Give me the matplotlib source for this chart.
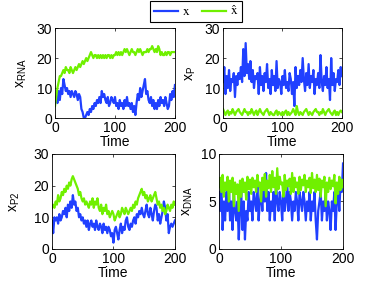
import numpy as np
import matplotlib
matplotlib.use("Agg")
import matplotlib.pyplot as plt

plt.rcParams['font.family'] = ['Liberation Sans', 'DejaVu Sans']
plt.rcParams['mathtext.fontset'] = 'stix'
plt.rcParams['font.size'] = 9.5

# veriler
rna_x = [5, 7, 5, 9, 6, 10, 8, 13, 11, 9, 10, 8, 9, 7, 9, 8, 7, 9, 8, 6,
         8, 7, 3, 2, 0, 0, 1, 2, 1, 3, 2, 4, 3, 5, 4, 6, 5, 7, 5, 9,
         7, 8, 6, 5, 7, 4, 5, 7, 6, 5, 7, 4, 5, 3, 6, 4, 5, 3, 6, 4,
         7, 4, 5, 3, 5, 2, 4, 1, 5, 8, 6, 10, 7, 9, 11, 13, 8, 9, 6, 5,
         7, 4, 6, 3, 5, 3, 6, 4, 7, 5, 6, 4, 7, 5, 3, 4, 8, 6, 9, 7, 11]
rna_hat = [4, 7, 10, 12, 14, 14, 15, 16, 15, 17, 16, 16, 15, 17, 16, 15, 16, 17, 16, 17,
           18, 17, 18, 19, 18, 19, 20, 19, 20, 21, 22, 21, 20, 21, 21, 20, 21, 20, 21, 20,
           21, 20, 21, 20, 21, 21, 20, 21, 20, 21, 21, 22, 21, 22, 21, 22, 21, 22, 23, 22,
           23, 22, 21, 22, 23, 22, 22, 21, 22, 23, 22, 23, 22, 21, 22, 22, 22, 23, 22, 23,
           23, 24, 23, 22, 23, 22, 24, 23, 21, 22, 21, 21, 22, 21, 22, 22, 21, 22, 22, 22, 22]

p_x = [12, 17, 8, 14, 10, 16, 9, 13, 12, 15, 7, 14, 11, 15, 13, 17, 12, 23, 14, 25,
       15, 18, 13, 19, 12, 16, 10, 14, 13, 15, 8, 17, 11, 14, 9, 15, 12, 18, 10, 13,
       8, 16, 11, 14, 9, 19, 10, 13, 12, 8, 14, 11, 16, 10, 12, 9, 15, 13, 8, 12,
       4, 17, 10, 14, 11, 16, 12, 20, 13, 9, 15, 11, 18, 10, 14, 12, 16, 8, 13, 11,
       15, 10, 21, 12, 9, 14, 11, 17, 10, 13, 6, 20, 11, 15, 9, 13, 12, 16, 11, 17, 14]
p_hat = [3, 2, 1, 2, 2.5, 1, 2, 1.5, 3, 2, 1, 2, 2.5, 3, 2, 1.5, 1, 2, 3, 2,
         2, 1, 2, 1.5, 3, 2, 1, 2, 2.5, 1, 2, 3, 2, 1.5, 1, 2, 2.5, 3, 2, 1,
         2, 1.5, 1, 1, 2, 2.5, 1, 2, 1.5, 1, 2, 1, 2, 2.5, 1, 2, 1, 1.5, 2, 3,
         2, 1, 4, 2, 1, 2, 1.5, 1, 2, 2.5, 3, 2, 1, 2, 1.5, 1, 2, 2.5, 3, 2,
         2, 1, 2, 1.5, 3, 2, 1, 2, 2.5, 3, 2, 1.5, 1, 2, 2.5, 1, 2, 1, 2, 2.5, 2]

p2_x = [9, 5, 10, 9, 10, 8, 11, 9, 10, 12, 11, 13, 10, 14, 12, 15, 13, 17, 14, 15,
        12, 13, 10, 11, 9, 10, 8, 9, 7, 9, 6, 8, 9, 7, 8, 6, 9, 7, 6, 8,
        7, 5, 8, 6, 7, 5, 7, 6, 4, 5, 2, 6, 7, 5, 3, 6, 8, 5, 7, 6,
        9, 10, 7, 6, 8, 7, 9, 10, 8, 11, 10, 12, 11, 13, 11, 10, 12, 14, 11, 10,
        13, 11, 9, 12, 14, 13, 9, 11, 8, 10, 12, 15, 13, 9, 11, 5, 7, 8, 7, 8, 9]
p2_hat = [13, 14, 13, 15, 14, 17, 15, 16, 18, 17, 19, 18, 20, 19, 21, 20, 22, 23, 22, 21,
          20, 19, 17, 18, 16, 15, 16, 14, 15, 14, 13, 15, 14, 16, 13, 15, 14, 16, 13, 12,
          14, 11, 13, 12, 14, 11, 12, 10, 11, 12, 11, 9, 10, 11, 12, 10, 11, 13, 12, 11,
          13, 12, 11, 12, 13, 12, 14, 13, 15, 14, 16, 17, 18, 19, 17, 18, 16, 17, 15, 16,
          17, 15, 16, 17, 18, 16, 14, 15, 13, 14, 12, 13, 11, 12, 14, 13, 12, 14, 13, 15, 14]

dna_x = [6, 4, 7, 2, 5, 3, 6, 4, 7, 3, 5, 2, 6, 4, 3, 5, 1, 4, 6, 2,
         5, 1, 4, 3, 6, 4, 5, 3, 6, 5, 4, 7, 3, 5, 6, 4, 7, 5, 8, 4,
         6, 3, 5, 4, 6, 3, 7, 5, 4, 6, 5, 3, 6, 4, 5, 7, 4, 6, 5, 3,
         5, 4, 6, 5, 3, 6, 5, 4, 6, 5, 3, 5, 4, 6, 3, 5, 4, 6, 3, 1,
         4, 5, 6, 3, 5, 4, 6, 3, 5, 4, 2, 5, 4, 6, 2, 5, 6, 4, 7, 6, 9]
dna_hat = [6.5, 7.5, 6, 7.8, 5.5, 7, 6.2, 7.6, 5, 7.2, 6, 7.5, 4.5, 7, 5.8, 6.8, 4, 7.2, 5.5, 7.4,
           6, 7, 5.2, 7.6, 6.3, 7.3, 5.8, 7.5, 6.5, 7.2, 6, 7.8, 6.6, 7, 5, 7.5, 6.2, 7.9, 5.5, 7.2,
           6.4, 7.8, 6, 8.2, 6.5, 7.5, 5.8, 8.5, 6.3, 7.6, 6.8, 7, 5.5, 7.8, 6.2, 7.2, 6.6, 7.4, 5.8, 8,
           6, 7.5, 6.5, 7, 5.8, 7.6, 6.2, 7.3, 6.7, 7.8, 6, 7.2, 6.5, 7.5, 5.9, 8, 6.4, 7.3, 6, 7.8,
           6.2, 7.4, 5.5, 7.2, 6.5, 7.6, 4.5, 7, 6, 7.5, 6.3, 7.2, 6.6, 7.8, 4.8, 7, 5.8, 7.6, 6.2, 7.3, 6.5]

blue = '#2040ff'
green = '#70f000'

panels = [
    (rna_x, rna_hat, 'x_{RNA}', [0, 10, 20, 30], 30, [0.144, 0.58, 0.314, 0.32], -0.22),
    (p_x, p_hat, 'x_{P}', [0, 10, 20, 30], 30, [0.584, 0.58, 0.311, 0.32], -0.21),
    (p2_x, p2_hat, 'x_{P2}', [0, 10, 20, 30], 30, [0.136, 0.114, 0.322, 0.338], -0.24),
    (dna_x, dna_hat, 'x_{DNA}', [0, 5, 10], 10, [0.573, 0.114, 0.325, 0.338], -0.19),
]

fig = plt.figure(figsize=(3.82, 2.81), dpi=100)
for xs, hs, lab, yt, ymax, pos, lx in panels:
    ax = fig.add_axes(pos)
    t = np.linspace(0, 200, len(xs))
    th = np.linspace(0, 200, len(hs))
    l1, = ax.plot(t, xs, color=blue, lw=1.6)
    l2, = ax.plot(th, hs, color=green, lw=1.6)
    ax.set_xlim(0, 200)
    ax.set_ylim(0, ymax)
    ax.set_xticks([0, 100, 200])
    ax.set_yticks(yt)
    ax.tick_params(direction='in', top=True, right=True, length=2.5, width=0.5,
                   pad=2, labelsize=10)
    for s in ax.spines.values():
        s.set_linewidth(0.6)
    ax.set_xlabel('Time', labelpad=0, fontsize=10)
    ax.set_ylabel(r'$\mathregular{' + lab + '}$', fontsize=10)
    ax.yaxis.set_label_coords(lx, 0.5)

leg = fig.legend([l1, l2], [r'$\mathrm{x}$', r'$\hat{\mathrm{x}}$'], loc='upper center',
                 bbox_to_anchor=(0.513, 1.0), ncol=2, frameon=True, fancybox=False,
                 edgecolor='black', framealpha=1, handlelength=1.8, columnspacing=0.9,
                 handletextpad=0.3, borderpad=0.3, borderaxespad=0.05, fontsize=9.5)
leg.get_frame().set_linewidth(0.8)

fig.savefig('out.png', dpi=100)
